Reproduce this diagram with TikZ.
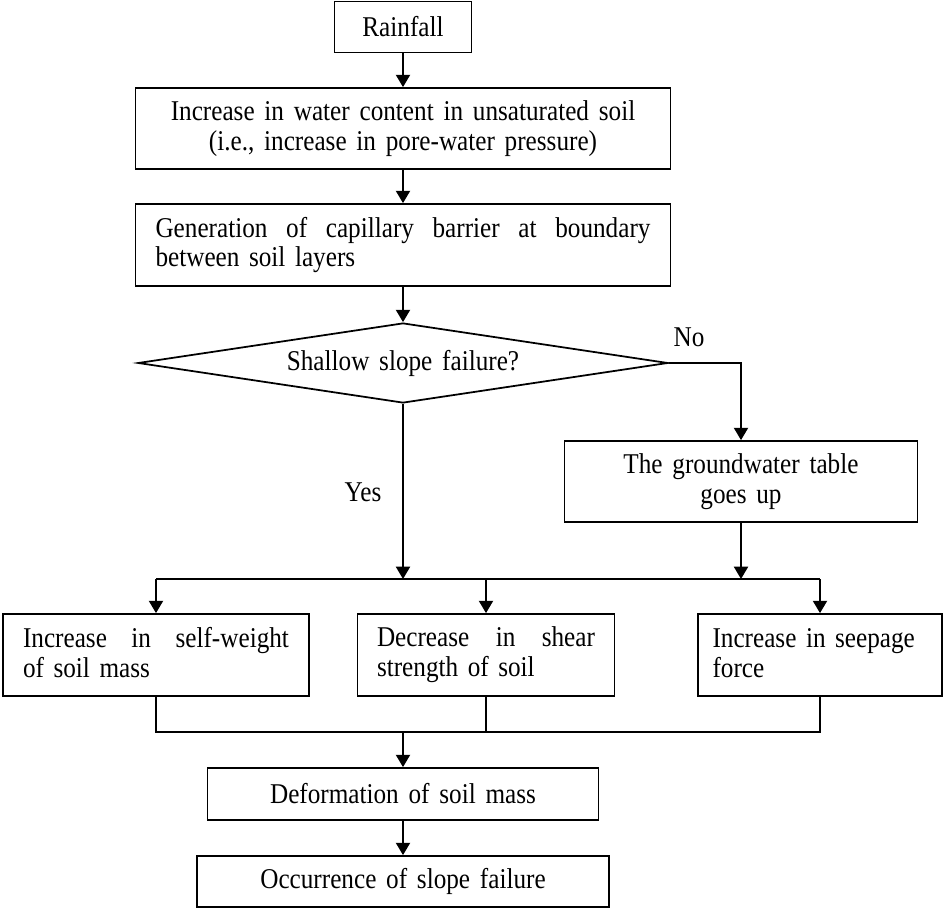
\documentclass[tikz,border=0pt]{standalone}
\usepackage{fontspec}
\setmainfont{Liberation Serif}[FakeStretch=0.88, WordSpace=1.55]
\usetikzlibrary{shapes.geometric,arrows.meta}
\newcommand{\boxstrut}{\rule[-2.8pt]{0pt}{14.2pt}}

\begin{document}
\begin{tikzpicture}[x=0.02cm,y=-0.02cm]
	\tikzset{>={Triangle[length=7pt,width=8pt]}}
	\tikzset{box/.style={draw, line width=1pt, inner sep=0pt, align=center, font=\fontsize{16.3}{17}\selectfont}}
	\tikzset{lbl/.style={inner sep=0pt, font=\fontsize{16.3}{17}\selectfont}}
	\tikzset{conn/.style={line width=1pt}}
	\useasboundingbox (0,0) rectangle (943,908);

	\pgfmathsetmacro{\midx}{403}
	\pgfmathsetmacro{\busy}{579}
	\pgfmathsetmacro{\lowy}{732}

	\node[box, minimum width=2.74cm, minimum height=1.02cm] (rain) at (\midx,27) {Rainfall};
	\node[box, minimum width=10.7cm, minimum height=1.62cm] (incr) at (\midx,128.5)
		{\boxstrut Increase in water content in unsaturated soil\\(i.e., increase in pore-water pressure)\boxstrut};
	\node[box, minimum width=10.7cm, minimum height=1.64cm, text width=9.9cm, align=left] (capb) at (\midx,245)
		{\boxstrut\makebox[9.9cm]{Generation\hfill of\hfill capillary\hfill barrier\hfill at\hfill boundary}\\between soil layers\boxstrut};
	\node[box, diamond, aspect=6.6, minimum width=10.6cm, minimum height=1.6cm] (dec) at (\midx,363)
		{Shallow slope failure?};
	\node[lbl] (no) at (689,337) {No};
	\node[box, minimum width=7.06cm, minimum height=1.62cm] (gw) at (741,481.5)
		{\boxstrut The groundwater table\\goes up\boxstrut};
	\node[lbl] (yes) at (363,492) {Yes};

	\coordinate (busL) at (156,\busy);
	\coordinate (busR) at (820,\busy);
	\coordinate (lowL) at (156,\lowy);
	\coordinate (lowR) at (820,\lowy);

	\node[box, minimum width=6.12cm, minimum height=1.64cm, text width=5.32cm, align=left] (self) at (156,655)
		{\boxstrut\makebox[5.32cm]{Increase\hfill in\hfill self-weight}\\of soil mass\boxstrut};
	\node[box, minimum width=5.14cm, minimum height=1.64cm, text width=4.36cm, align=left] (shear) at (486,655)
		{\boxstrut\makebox[4.36cm]{Decrease\hfill in\hfill shear}\\strength of soil\boxstrut};
	\node[box, minimum width=4.88cm, minimum height=1.64cm, text width=4.3cm, align=left] (seep) at (820,655)
		{\boxstrut Increase in seepage\\force\boxstrut};
	\node[box, minimum width=7.82cm, minimum height=1.04cm] (deform) at (\midx,794) {Deformation of soil mass};
	\node[box, minimum width=8.24cm, minimum height=1.02cm] (occur) at (\midx,881.5) {Occurrence of slope failure};

	\draw[conn,->] (rain) -- (incr);
	\draw[conn,->] (incr) -- (capb);
	\draw[conn,->] (capb) -- (dec);
	\draw[conn,->] (dec.east) -| (gw.north);
	\draw[conn,->] (dec.south) -- (dec.south |- busL);
	\draw[conn,->] (gw.south) -- (gw.south |- busL);
	\draw[conn] (busL) -- (busR);
	\draw[conn,->] (busL) -- (self.north);
	\draw[conn,->] (shear.north |- busL) -- (shear.north);
	\draw[conn,->] (busR) -- (seep.north);

	\draw[conn] (self.south) -- (lowL) -- (lowR) -- (seep.south);
	\draw[conn] (shear.south) -- (shear.south |- lowL);
	\draw[conn,->] (deform.north |- lowL) -- (deform);
	\draw[conn,->] (deform) -- (occur);
\end{tikzpicture}
\end{document}
